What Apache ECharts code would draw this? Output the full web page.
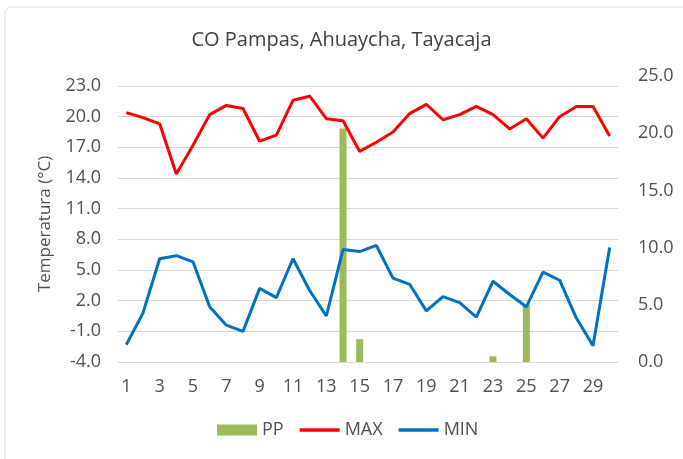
<!DOCTYPE html>
<html>
<head>
<meta charset="utf-8">
<script src="https://cdn.jsdelivr.net/npm/echarts@6/dist/echarts.min.js"></script>
<style>
  html, body { margin: 0; padding: 0; background: #fff; }
  #chart { width: 683px; height: 459px; }
</style>
</head>
<body>
<div id="chart"></div>
<script>
const days = Array.from({ length: 30 }, (_, i) => String(i + 1));
const ppValues = [0, 0, 0, 0, 0, 0, 0, 0, 0, 0, 0, 0, 0, 20.4, 2.0, 0, 0, 0, 0, 0, 0, 0, 0.5, 0, 5.0, 0, 0, 0, 0, 0];
const maxValues = [20.4, 19.9, 19.3, 14.4, 17.2, 20.2, 21.1, 20.8, 17.6, 18.2, 21.6, 22.0, 19.8, 19.6, 16.6, 17.5, 18.5, 20.3, 21.2, 19.7, 20.2, 21.0, 20.2, 18.8, 19.8, 17.9, 20.0, 21.0, 21.0, 18.1];
const minValues = [-2.3, 0.8, 6.1, 6.4, 5.8, 1.4, -0.4, -1.0, 3.2, 2.3, 6.1, 3.0, 0.5, 7.0, 6.8, 7.4, 4.2, 3.6, 1.0, 2.4, 1.8, 0.4, 3.9, 2.6, 1.4, 4.8, 4.0, 0.3, -2.4, 7.2];

const font = '"Open Sans", "Noto Sans", sans-serif';
const labelColor = '#505050';
const chart = echarts.init(document.getElementById('chart'));

const option = {
  animation: false,
  color: ['#9bbb59', '#ff0000', '#0070c0'],
  // chart-area frame (only top/left edges fall inside the picture)
  graphic: [{
    type: 'rect',
    shape: { x: 5, y: 7, width: 720, height: 480, r: 6 },
    style: { fill: 'none', stroke: '#d9d9d9', lineWidth: 1 },
    silent: true,
  }],
  title: {
    text: 'CO Pampas, Ahuaycha, Tayacaja',
    left: 'center',
    top: 25,
    textStyle: { fontSize: 20, fontWeight: 'normal', color: '#404040', fontFamily: font },
  },
  legend: {
    top: 421,
    left: 217,
    padding: 0,
    itemWidth: 40,
    itemHeight: 11,
    itemGap: 16,
    textStyle: { fontSize: 18, color: labelColor, fontFamily: font },
    data: [
      { name: 'PP', icon: 'rect' },
      { name: 'MAX', icon: 'path://M0,0H40V3.5H0Z' },
      { name: 'MIN', icon: 'path://M0,0H40V3.5H0Z' },
    ],
  },
  grid: [
    { left: 118, right: 65, top: 86, bottom: 97 },
    { left: 118, right: 65, top: 76, bottom: 97 },
  ],
  xAxis: [
    {
      type: 'category',
      gridIndex: 0,
      data: days,
      axisLine: { show: false },
      axisTick: { show: false },
      axisLabel: { interval: 1, margin: 16, fontSize: 18, color: labelColor, fontFamily: font },
    },
    {
      type: 'category',
      gridIndex: 1,
      data: days,
      show: false,
    },
  ],
  yAxis: [
    {
      type: 'value',
      gridIndex: 0,
      min: -4,
      max: 23,
      interval: 3,
      name: 'Temperatura (°C)',
      nameLocation: 'middle',
      nameGap: 64,
      nameTextStyle: { fontSize: 17, color: labelColor, fontFamily: font },
      axisLabel: {
        margin: 17,
        fontSize: 18,
        color: labelColor,
        fontFamily: font,
        formatter: (v) => v.toFixed(1),
      },
      splitLine: { lineStyle: { color: '#d9d9d9', width: 1 } },
    },
    {
      type: 'value',
      gridIndex: 1,
      position: 'right',
      min: 0,
      max: 25,
      interval: 5,
      axisLine: { show: false },
      axisTick: { show: false },
      axisLabel: {
        margin: 20,
        fontSize: 18,
        color: labelColor,
        fontFamily: font,
        formatter: (v) => v.toFixed(1),
      },
      splitLine: { show: false },
    },
  ],
  series: [
    {
      name: 'PP',
      type: 'bar',
      xAxisIndex: 1,
      yAxisIndex: 1,
      barWidth: 7,
      data: ppValues,
    },
    {
      name: 'MAX',
      type: 'line',
      symbol: 'none',
      lineStyle: { width: 3 },
      data: maxValues,
    },
    {
      name: 'MIN',
      type: 'line',
      symbol: 'none',
      lineStyle: { width: 3 },
      data: minValues,
    },
  ],
};

chart.setOption(option);
</script>
</body>
</html>
